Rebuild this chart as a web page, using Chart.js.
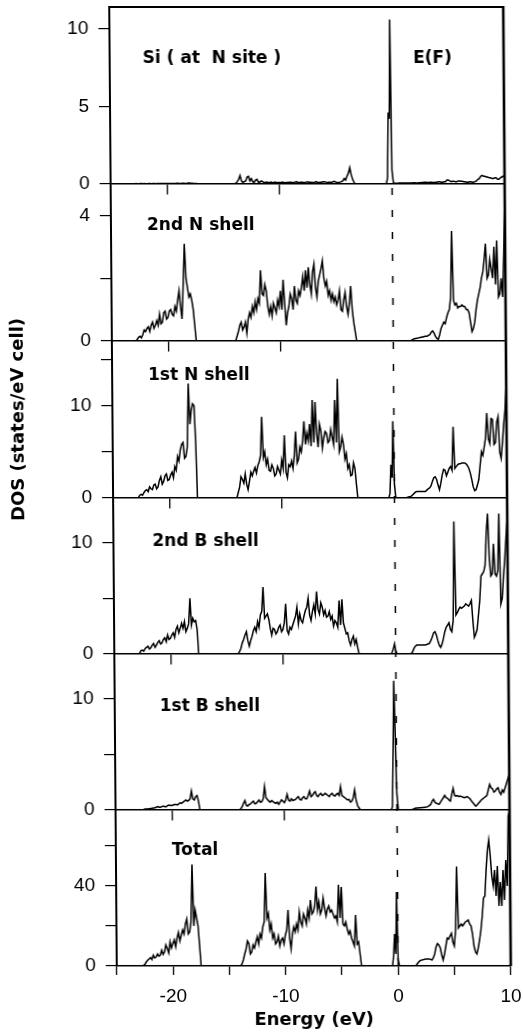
<!DOCTYPE html>
<html>
<head>
<meta charset="utf-8">
<title>DOS</title>
<script src="https://cdn.jsdelivr.net/npm/chart.js"></script>
<style>
  html, body { margin: 0; padding: 0; background: #fff; }
  #wrap { width: 523px; height: 1036px; position: relative; }
  /* the printed frame leans slightly to the right towards the bottom */
  #dos { transform: skewX(0.45deg); transform-origin: 50% 486px; }
</style>
</head>
<body>
<div id="wrap"><canvas id="dos"></canvas></div>
<script>
// --- energy grid (eV): 1/8 eV inside the bands, coarser in the gaps, finer just below E(F) ---
const energy = [
  -25, -24.75, -24.5, -24.25, -24, -23.75, -23.5, -23.25,
  -23, -22.875, -22.75, -22.625, -22.5, -22.375, -22.25, -22.125,
  -22, -21.875, -21.75, -21.625, -21.5, -21.375, -21.25, -21.125,
  -21, -20.875, -20.75, -20.625, -20.5, -20.375, -20.25, -20.125,
  -20, -19.875, -19.75, -19.625, -19.5, -19.375, -19.25, -19.125,
  -19, -18.875, -18.75, -18.625, -18.5, -18.375, -18.25, -18.125,
  -18, -17.875, -17.75, -17.625, -17.5, -17.375, -17.25,
  -17, -16.75, -16.5, -16.25, -16, -15.75, -15.5, -15.25, -15, -14.75, -14.5, -14.25,
  -14, -13.875, -13.75, -13.625, -13.5, -13.375, -13.25, -13.125,
  -13, -12.875, -12.75, -12.625, -12.5, -12.375, -12.25, -12.125,
  -12, -11.875, -11.75, -11.625, -11.5, -11.375, -11.25, -11.125,
  -11, -10.875, -10.75, -10.625, -10.5, -10.375, -10.25, -10.125,
  -10, -9.875, -9.75, -9.625, -9.5, -9.375, -9.25, -9.125,
  -9, -8.875, -8.75, -8.625, -8.5, -8.375, -8.25, -8.125,
  -8, -7.875, -7.75, -7.625, -7.5, -7.375, -7.25, -7.125,
  -7, -6.875, -6.75, -6.625, -6.5, -6.375, -6.25, -6.125,
  -6, -5.875, -5.75, -5.625, -5.5, -5.375, -5.25, -5.125,
  -5, -4.875, -4.75, -4.625, -4.5, -4.375, -4.25, -4.125,
  -4, -3.875, -3.75, -3.625, -3.5, -3.375, -3.25,
  -3, -2.75, -2.5, -2.25, -2, -1.75, -1.5, -1.25, -1, -0.75, -0.5,
  -0.4, -0.3, -0.2, -0.1, 0,
  0.125, 0.25, 0.375, 0.5, 0.625, 0.75, 0.875, 1,
  1.125, 1.25, 1.375, 1.5, 1.625, 1.75, 1.875, 2,
  2.125, 2.25, 2.375, 2.5, 2.625, 2.75, 2.875, 3,
  3.125, 3.25, 3.375, 3.5, 3.625, 3.75, 3.875, 4,
  4.125, 4.25, 4.375, 4.5, 4.625, 4.75, 4.875, 5,
  5.125, 5.25, 5.375, 5.5, 5.625, 5.75, 5.875, 6,
  6.125, 6.25, 6.375, 6.5, 6.625, 6.75, 6.875, 7,
  7.125, 7.25, 7.375, 7.5, 7.625, 7.75, 7.875, 8,
  8.125, 8.25, 8.375, 8.5, 8.625, 8.75, 8.875, 9,
  9.125, 9.25, 9.375, 9.5, 9.625, 9.75, 9.875, 10
];

// --- DOS per site (states/eV cell), one value per energy point ---
const dosSi = [
  0, 0, 0, 0, 0, 0, 0, 0,
  0.02, 0.02, 0.03, 0.02, 0.02, 0.03, 0.03, 0.02,
  0.03, 0.02, 0.02, 0.03, 0.03, 0.02, 0.03, 0.03,
  0.02, 0.03, 0.03, 0.04, 0.04, 0.03, 0.03, 0.03,
  0.03, 0.04, 0.04, 0.03, 0.03, 0.04, 0.04, 0.05,
  0.05, 0.04, 0.04, 0.05, 0.05, 0.04, 0.04, 0.06,
  0.06, 0.05, 0.05, 0.04, 0.04, 0.03, 0.02,
  0, 0, 0, 0, 0, 0, 0, 0, 0, 0, 0, 0,
  0, 0.05, 0.15, 0.3, 0.55, 0.2, 0.1, 0.15,
  0.2, 0.45, 0.5, 0.2, 0.35, 0.15, 0.1, 0.25,
  0.3, 0.12, 0.12, 0.2, 0.15, 0.1, 0.1, 0.12,
  0.08, 0.1, 0.12, 0.08, 0.1, 0.12, 0.08, 0.1,
  0.1, 0.08, 0.12, 0.1, 0.08, 0.1, 0.1, 0.12,
  0.12, 0.1, 0.1, 0.12, 0.15, 0.1, 0.1, 0.12,
  0.12, 0.1, 0.1, 0.12, 0.15, 0.12, 0.12, 0.1,
  0.1, 0.12, 0.15, 0.1, 0.1, 0.12, 0.12, 0.15,
  0.15, 0.12, 0.1, 0.12, 0.12, 0.1, 0.15, 0.18,
  0.12, 0.1, 0.1, 0.12, 0.15, 0.2, 0.35, 0.25,
  0.5, 0.7, 1.05, 0.6, 0.3, 0.1, 0,
  0, 0, 0, 0, 0, 0, 0, 0, 0, 0, 0,
  0.4, 4.6, 4.2, 10.6, 0.9,
  0.05, 0.05, 0.05, 0.05, 0.06, 0.06, 0.06, 0.06,
  0.07, 0.07, 0.06, 0.06, 0.07, 0.07, 0.08, 0.08,
  0.07, 0.07, 0.08, 0.08, 0.1, 0.1, 0.12, 0.12,
  0.1, 0.1, 0.12, 0.12, 0.1, 0.1, 0.12, 0.12,
  0.15, 0.15, 0.12, 0.12, 0.15, 0.15, 0.25, 0.25,
  0.2, 0.15, 0.18, 0.18, 0.15, 0.15, 0.2, 0.2,
  0.18, 0.18, 0.15, 0.15, 0.12, 0.12, 0.15, 0.15,
  0.12, 0.12, 0.15, 0.2, 0.3, 0.35, 0.5, 0.55,
  0.5, 0.5, 0.45, 0.45, 0.4, 0.4, 0.35, 0.35,
  0.4, 0.4, 0.3, 0.3, 0.4, 0.45, 0.5, 0.55
];

const dos2N = [
  0, 0, 0, 0, 0, 0, 0, 0,
  0, 0, 0.05, 0.12, 0.15, 0.1, 0.2, 0.35,
  0.3, 0.4, 0.45, 0.3, 0.5, 0.6, 0.4, 0.5,
  0.65, 0.5, 0.85, 0.55, 0.6, 0.9, 0.95, 0.7,
  0.75, 0.95, 1.0, 0.85, 0.8, 1.1, 0.95, 1.3,
  1.6, 1.1, 0.7, 1.8, 3.1, 2.0, 1.7, 1.4,
  1.5, 1.3, 1.0, 0.5, 0, 0, 0,
  0, 0, 0, 0, 0, 0, 0, 0, 0, 0, 0, 0,
  0, 0.15, 0.3, 0.5, 0.6, 0.35, 0.45, 0.6,
  0.25, 0.7, 0.9, 0.75, 1.1, 0.9, 1.25, 1.0,
  1.35, 1.2, 2.25, 1.5, 1.45, 1.8, 1.6, 1.1,
  0.85, 1.1, 0.8, 1.2, 1.05, 0.9, 1.3, 1.1,
  1.6, 1.0, 1.95, 1.2, 0.5, 0.9, 1.1, 1.5,
  1.35, 1.0, 1.75, 1.3, 1.2, 1.6, 1.45, 1.7,
  2.05, 1.6, 2.25, 1.7, 2.35, 1.8, 1.5, 2.2,
  2.45, 1.7, 1.4, 1.9, 2.1, 2.3, 2.55, 2.0,
  1.75, 1.9, 1.45, 1.6, 1.3, 1.5, 1.25, 1.4,
  1.15, 1.3, 1.6, 1.0, 0.95, 1.3, 1.55, 1.1,
  0.85, 1.2, 1.75, 1.0, 0.6, 0.3, 0,
  0, 0, 0, 0, 0, 0, 0, 0, 0, 0, 0,
  0, 0, 0, 0, 0,
  0, 0, 0, 0, 0, 0, 0, 0,
  0, 0, 0, 0, 0.03, 0.05, 0.07, 0.08,
  0.09, 0.1, 0.11, 0.12, 0.13, 0.14, 0.15, 0.15,
  0.18, 0.2, 0.28, 0.32, 0.25, 0.15, 0.08, 0.05,
  0.2, 0.4, 0.5, 0.6, 0.55, 0.75, 0.9, 1.0,
  1.4, 3.5, 1.3, 1.15, 1.2, 1.05, 1.1, 1.1,
  1.15, 1.1, 1.1, 1.0, 1.0, 0.9, 0.6, 0.3,
  0.4, 0.6, 1.0, 1.3, 1.5, 1.7, 2.0, 2.2,
  2.6, 3.1, 2.0, 2.1, 2.6, 2.3, 2.0, 3.0,
  1.8, 3.2, 1.4, 1.5, 2.0, 1.4, 2.8, 4.5
];

const dos1N = [
  0, 0, 0, 0, 0, 0, 0, 0,
  0, 0, 0.05, 0.3, 0.4, 0.3, 0.6, 0.8,
  0.9, 0.7, 1.2, 1.0, 0.9, 1.4, 1.5, 1.0,
  1.2, 1.9, 2.3, 1.5, 1.8, 2.4, 2.6, 1.9,
  2.0, 2.5, 2.8, 2.2, 3.4, 3.0, 4.5, 4.0,
  5.2, 5.8, 6.0, 4.3, 4.5, 5.5, 12.4, 8.0,
  9.5, 10.2, 10.0, 6.0, 0, 0, 0,
  0, 0, 0, 0, 0, 0, 0, 0, 0, 0, 0, 0,
  0, 0.6, 1.2, 2.3, 2.0, 1.6, 2.6, 1.5,
  0.9, 1.8, 2.8, 2.4, 2.9, 3.3, 2.7, 3.5,
  3.9, 4.6, 8.8, 4.4, 5.0, 3.6, 4.2, 3.0,
  2.9, 3.6, 3.2, 2.4, 2.6, 3.4, 3.0, 2.6,
  4.1, 3.2, 6.8, 2.8, 2.2, 3.6, 3.4, 4.0,
  3.2, 4.6, 7.2, 3.8, 4.2, 5.5, 5.0, 6.2,
  8.3, 5.8, 7.0, 6.2, 8.0, 5.6, 10.6, 6.0,
  10.4, 7.0, 5.5, 8.0, 7.3, 5.4, 6.5, 7.2,
  7.0, 6.0, 6.2, 7.4, 6.6, 5.8, 10.6, 6.0,
  12.9, 5.0, 5.5, 6.6, 5.8, 4.2, 4.8, 3.2,
  3.6, 2.4, 2.5, 3.8, 3.2, 1.5, 0,
  0, 0, 0, 0, 0, 0, 0, 0, 0, 0, 0,
  0.5, 3.6, 2.2, 8.3, 1.5,
  0, 0, 0, 0, 0, 0, 0, 0,
  0.05, 0.1, 0.15, 0.2, 0.35, 0.5, 0.65, 0.7,
  0.7, 0.7, 0.7, 0.7, 0.7, 0.7, 0.85, 1.0,
  1.1, 1.3, 1.8, 2.2, 2.3, 2.0, 1.4, 0.9,
  1.6, 2.5, 3.1, 3.0, 2.4, 2.8, 3.2, 3.4,
  3.0, 7.7, 3.2, 3.4, 3.6, 3.7, 3.7, 3.8,
  3.8, 3.8, 3.7, 3.5, 3.2, 2.7, 2.0, 1.2,
  0.8, 0.9, 1.4, 2.0, 3.5, 5.0, 4.6, 5.5,
  6.5, 9.2, 6.4, 5.9, 8.6, 8.5, 5.8, 6.0,
  8.2, 8.8, 5.0, 4.3, 6.0, 8.0, 9.5, 12.4
];

const dos2B = [
  0, 0, 0, 0, 0, 0, 0, 0,
  0, 0, 0.05, 0.3, 0.35, 0.25, 0.5, 0.6,
  0.7, 0.45, 0.55, 0.8, 0.95, 0.6, 0.8, 1.05,
  1.2, 0.9, 1.0, 1.3, 1.45, 1.1, 1.7, 1.3,
  1.4, 1.7, 1.9, 1.5, 2.2, 2.5, 1.9, 2.3,
  2.75, 2.3, 2.9, 2.0, 2.3, 2.7, 5.0, 2.6,
  3.2, 2.9, 3.0, 2.2, 0, 0, 0,
  0, 0, 0, 0, 0, 0, 0, 0, 0, 0, 0, 0,
  0, 0.2, 0.5, 1.0, 1.3, 1.7, 2.0, 1.2,
  0.7, 1.2, 1.6, 2.1, 2.4, 2.0, 2.9, 2.4,
  3.5, 3.8, 6.0, 3.2, 3.4, 3.6, 3.1, 2.3,
  1.7, 2.3, 2.2, 1.8, 2.0, 2.4, 2.6, 2.0,
  2.2, 2.8, 4.5, 2.1, 1.8, 2.4, 2.2, 2.6,
  3.0, 3.4, 4.2, 2.7, 3.6, 3.0, 2.8, 3.4,
  3.9, 4.2, 5.0, 3.5, 3.0, 3.8, 4.4, 3.6,
  5.6, 4.0, 3.6, 4.6, 4.2, 3.5, 3.9, 3.3,
  3.4, 3.8, 3.1, 3.4, 2.5, 3.0, 2.8, 2.4,
  4.8, 2.6, 4.9, 2.8, 2.3, 1.8, 1.9, 1.2,
  0.8, 1.3, 1.6, 0.9, 1.3, 0.6, 0,
  0, 0, 0, 0, 0, 0, 0, 0, 0, 0, 0,
  0, 0.2, 0.5, 0.9, 0.3,
  0, 0, 0, 0, 0, 0, 0, 0,
  0, 0, 0.05, 0.2, 0.5, 0.7, 0.8, 0.8,
  0.8, 0.8, 0.8, 0.8, 0.8, 0.85, 0.9, 0.95,
  1.2, 1.5, 1.9, 2.0, 1.7, 1.2, 0.8, 0.6,
  0.9, 1.4, 2.0, 2.4, 2.6, 2.8, 2.2, 2.0,
  3.0, 11.9, 3.5, 3.7, 4.0, 4.2, 4.1, 4.2,
  4.3, 4.5, 4.4, 4.3, 4.5, 4.8, 3.0, 1.5,
  1.8, 2.2, 3.5, 4.8, 7.0, 7.2, 7.4, 8.0,
  11.0, 12.6, 8.5, 7.0, 7.2, 9.9, 7.2, 7.0,
  7.5, 12.6, 4.5, 5.0, 7.0, 8.5, 10.5, 12.3
];

const dos1B = [
  0, 0, 0, 0, 0, 0, 0, 0,
  0, 0.01, 0.02, 0.03, 0.05, 0.08, 0.1, 0.1,
  0.12, 0.14, 0.15, 0.18, 0.2, 0.25, 0.3, 0.25,
  0.25, 0.3, 0.35, 0.3, 0.3, 0.4, 0.45, 0.4,
  0.4, 0.45, 0.5, 0.5, 0.45, 0.55, 0.65, 0.6,
  0.7, 0.8, 0.9, 0.8, 0.85, 1.0, 1.7, 1.0,
  0.9, 1.2, 1.3, 0.8, 0, 0, 0,
  0, 0, 0, 0, 0, 0, 0, 0, 0, 0, 0, 0,
  0, 0.1, 0.3, 0.6, 0.85, 0.4, 0.35, 0.5,
  0.55, 0.7, 0.8, 0.55, 0.6, 0.75, 0.9, 0.7,
  0.75, 1.0, 2.1, 1.1, 0.95, 0.8, 0.7, 0.85,
  0.75, 0.65, 0.6, 0.7, 0.5, 0.7, 0.9, 0.8,
  0.65, 0.9, 1.4, 0.9, 0.8, 1.0, 0.85, 0.9,
  0.95, 1.1, 1.2, 0.95, 0.9, 1.1, 1.2, 1.0,
  1.0, 1.3, 1.7, 1.2, 1.3, 1.5, 1.65, 1.3,
  1.2, 1.4, 1.5, 1.3, 1.35, 1.5, 1.4, 1.3,
  1.2, 1.4, 1.5, 1.3, 1.25, 1.4, 1.5, 1.3,
  2.1, 1.3, 1.2, 1.1, 1.0, 0.9, 0.95, 0.7,
  0.8, 1.1, 1.8, 0.9, 0.4, 0.2, 0,
  0, 0, 0, 0, 0, 0, 0, 0, 0, 0, 0,
  0.3, 5.4, 11.6, 6.6, 1.5,
  0, 0, 0, 0, 0, 0, 0, 0,
  0, 0, 0.05, 0.1, 0.15, 0.18, 0.19, 0.2,
  0.21, 0.22, 0.23, 0.25, 0.27, 0.3, 0.4, 0.5,
  0.8, 0.95, 0.7, 0.6, 0.55, 0.5, 0.7, 0.9,
  1.1, 1.3, 1.1, 1.05, 0.9, 0.8, 1.4, 1.95,
  1.3, 1.25, 1.3, 1.2, 1.25, 1.2, 1.15, 1.1,
  1.15, 1.2, 1.1, 1.0, 0.8, 0.65, 0.5, 0.35,
  0.45, 0.6, 0.75, 0.9, 1.0, 1.1, 1.2, 1.3,
  1.8, 2.3, 2.0, 1.9, 1.6, 1.7, 1.9, 2.0,
  1.6, 1.4, 1.8, 1.6, 2.0, 2.4, 2.8, 3.2
];

const dosTotal = [
  0, 0, 0, 0, 0, 0, 0, 0,
  0, 0, 0, 0.3, 0.8, 2.0, 2.85, 3.5,
  4.2, 3.2, 5.4, 4.0, 4.5, 6.0, 4.9, 5.5,
  7.9, 5.8, 7.0, 10.5, 8.7, 6.5, 12.1, 9.0,
  11.2, 13.0, 9.6, 14.0, 16.8, 12.5, 15.4, 18.0,
  16.0, 21.0, 23.5, 16.0, 17.0, 22.0, 50.7, 20.0,
  28.0, 24.0, 20.0, 10.0, 0, 0, 0,
  0, 0, 0, 0, 0, 0, 0, 0, 0, 0, 0, 0,
  0, 1.0, 3.0, 6.0, 8.5, 12.5, 11.2, 6.0,
  7.0, 10.5, 9.0, 12.0, 14.6, 11.0, 16.0, 14.0,
  19.5, 22.0, 46.5, 24.0, 26.3, 18.0, 21.0, 14.0,
  16.0, 11.0, 12.0, 15.0, 10.0, 13.0, 14.0, 11.0,
  15.5, 18.0, 28.0, 14.0, 8.5, 16.0, 19.5, 17.0,
  21.0, 18.0, 27.0, 22.0, 20.0, 26.0, 24.0, 21.0,
  28.0, 24.0, 33.0, 26.0, 27.0, 30.0, 39.7, 28.0,
  32.0, 26.0, 28.0, 34.0, 29.0, 25.0, 28.5, 30.0,
  27.0, 28.0, 26.0, 24.0, 25.0, 22.0, 40.6, 24.0,
  39.5, 21.0, 20.0, 22.0, 18.5, 16.0, 17.5, 14.0,
  12.0, 10.0, 25.5, 11.0, 12.0, 6.0, 0,
  0, 0, 0, 0, 0, 0, 0, 0, 0, 0, 0,
  5, 16, 6, 37, 3,
  0, 0, 0, 0, 0, 0, 0, 0,
  0, 0, 0, 0, 0.5, 1.5, 2.3, 2.8,
  3.0, 3.2, 3.4, 3.5, 3.5, 3.5, 3.3, 3.0,
  4.0, 6.0, 9.5, 11.2, 10.5, 9.0, 5.5, 3.0,
  6.0, 10.0, 14.0, 13.5, 15.0, 16.3, 12.0, 10.0,
  18.0, 49.8, 19.0, 20.0, 21.0, 20.0, 21.0, 22.0,
  22.5, 23.0, 21.0, 20.0, 16.0, 10.0, 7.0, 6.0,
  9.0, 13.0, 18.0, 25.0, 34.0, 35.0, 48.0, 58.0,
  63.0, 55.0, 45.0, 40.0, 48.0, 35.0, 50.0, 30.0,
  42.0, 30.0, 48.0, 33.0, 53.0, 40.0, 75.0, 78.0
];

// panels, top to bottom
const panelNames = ['Si ( at  N site )', '2nd N shell', '1st N shell', '2nd B shell', '1st B shell', 'Total'];
const panelDos = [dosSi, dos2N, dos1N, dos2B, dos1B, dosTotal];
const yMax = [11.4, 5, 17, 14, 14, 78];
const yStep = [2.5, 2, 5, 5, 5, 20];
const yLabeled = [[0, 5, 10], [0, 4], [0, 10], [0, 10], [0, 10], [0, 40]];
const xLabeled = [-20, -10, 0, 10];
const innerTicks = [-20, -10];   // ticks under each inner panel

panelDos.forEach((d, i) => {
  if (d.length !== energy.length) console.warn(panelNames[i], d.length, energy.length);
});

// --- layout / style ---
const panelHeights = [177, 157, 157, 156, 156, 156];
const labelOffset = [[33, 56], [36, 46], [36, 39], [39, 48], [45, 57], [56, 45]]; // from panel top-left
const tickFont = { family: 'Liberation Sans', size: 19 };
const boldFont = { family: 'DejaVu Sans', size: 18, weight: 'bold' };

// keep the plot area where the layout padding puts it
const noEdgePadding = s => { s.paddingLeft = 0; s.paddingRight = 0; s.paddingTop = 0; s.paddingBottom = 0; };

const n = panelDos.length;
const scales = {};

// stacked left axes, one per panel (bottom one declared first)
for (let i = n - 1; i >= 0; i--) {
  scales['y' + (i + 1)] = {
    type: 'linear',
    position: 'left',
    stack: 'dos',
    stackWeight: panelHeights[i],
    weight: n - i,
    min: 0,
    max: yMax[i],
    ticks: {
      stepSize: yStep[i],
      includeBounds: false,
      padding: 10,
      color: '#000',
      font: tickFont,
      callback: v => (yLabeled[i].includes(v) ? String(v) : '')
    },
    grid: { drawOnChartArea: false, tickLength: 11, color: '#000', lineWidth: 1.2 },
    border: { color: '#000', width: 2 },
    title: {
      display: i === 2,
      text: 'DOS (states/eV cell)',
      color: '#000',
      font: boldFont,
      padding: { top: 9, bottom: 0 }
    },
    afterFit: s => { s.width = 113; noEdgePadding(s); }
  };
}

scales.x = {
  type: 'linear',
  position: 'bottom',
  min: -25,
  max: 10,
  ticks: {
    stepSize: 5,
    padding: 10,
    maxRotation: 0,
    autoSkip: false,
    color: '#000',
    font: tickFont,
    callback: v => (xLabeled.includes(v) ? String(v) : '')
  },
  grid: { drawOnChartArea: false, tickLength: 9, color: '#000', lineWidth: 1.3 },
  border: { color: '#000', width: 1.5 },
  title: { display: true, text: 'Energy (eV)', color: '#000', font: boldFont, padding: 5 },
  afterFit: s => { s.height = 70; noEdgePadding(s); }
};

// zero line + short ticks for each inner panel, pinned to that panel's y = 0
for (let i = 0; i < n - 1; i++) {
  scales['xz' + (i + 1)] = {
    type: 'linear',
    position: { ['y' + (i + 1)]: 0 },
    min: -25,
    max: 10,
    afterBuildTicks: s => { s.ticks = innerTicks.map(v => ({ value: v })); },
    afterFit: noEdgePadding,
    ticks: { display: false },
    grid: { drawOnChartArea: false, tickLength: 10, color: '#000', lineWidth: 1.3 },
    border: { color: '#000', width: 1.5 }
  };
}

const datasets = panelDos.map((dos, i) => ({
  label: panelNames[i],
  data: dos.map((v, k) => ({ x: energy[k], y: v })),
  xAxisID: 'x',
  yAxisID: 'y' + (i + 1),
  borderColor: '#000',
  borderWidth: 1.5,
  pointRadius: 0,
  fill: false,
  tension: 0
}));

// frame, Fermi level marker and panel captions
const framePlugin = {
  id: 'frame',
  beforeDatasetsDraw(chart) {
    const { ctx, chartArea: a, scales: s } = chart;
    const x0 = s.x.getPixelForValue(0);
    ctx.save();
    ctx.strokeStyle = '#000';
    ctx.lineWidth = 1.5;
    ctx.setLineDash([7, 15]);
    ctx.beginPath();
    ctx.moveTo(x0, s.y2.top + 4);
    ctx.lineTo(x0, a.bottom);
    ctx.stroke();
    ctx.restore();
  },
  afterDraw(chart) {
    const { ctx, chartArea: a, scales: s } = chart;
    ctx.save();
    ctx.strokeStyle = '#000';
    ctx.lineWidth = 2;
    ctx.beginPath();
    ctx.moveTo(a.left - 1, a.top);
    ctx.lineTo(a.right, a.top);
    ctx.stroke();
    ctx.lineWidth = 2.6;
    ctx.beginPath();
    ctx.moveTo(a.right, a.top - 1);
    ctx.lineTo(a.right, a.bottom);
    ctx.stroke();

    ctx.fillStyle = '#000';
    ctx.font = 'bold 17px "DejaVu Sans"';
    ctx.textBaseline = 'alphabetic';
    ctx.textAlign = 'left';
    panelNames.forEach((name, i) => {
      const y = s['y' + (i + 1)];
      ctx.fillText(name, a.left + labelOffset[i][0], y.top + labelOffset[i][1]);
    });
    ctx.fillText('E(F)', s.x.getPixelForValue(0) + 22, s.y1.top + labelOffset[0][1]);
    ctx.restore();
  }
};

new Chart(document.getElementById('dos'), {
  type: 'line',
  data: { datasets },
  options: {
    responsive: true,
    maintainAspectRatio: false,
    animation: false,
    events: [],
    layout: { padding: { top: 7, right: 16, left: 0, bottom: 0 } },
    plugins: { legend: { display: false }, tooltip: { enabled: false } },
    scales
  },
  plugins: [framePlugin]
});
</script>
</body>
</html>
